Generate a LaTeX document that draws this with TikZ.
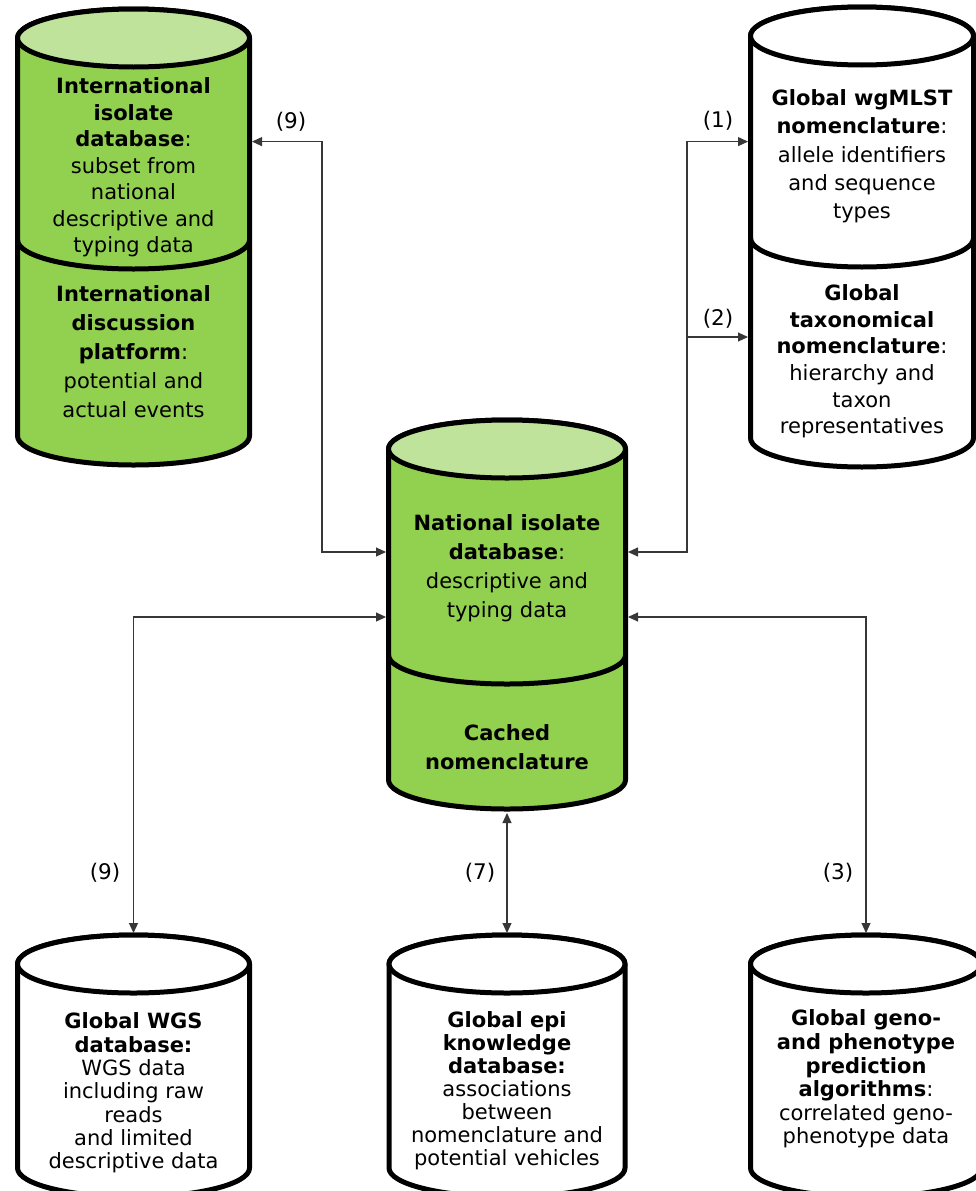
\documentclass[tikz,border=0pt]{standalone}
\usepackage{fontspec}
\setmainfont{DejaVu Sans}
\usetikzlibrary{arrows.meta}
\definecolor{dbgreen}{RGB}{146,208,80}
\definecolor{dbtop}{RGB}{192,227,156}
\definecolor{connc}{RGB}{55,55,55}
\newcommand\dbcylinder[7]{%
  \filldraw[cylline, fill=#6] (#1-#2,#3) -- (#1-#2,#4) arc[start angle=180,end angle=0,x radius=#2,y radius=#5] -- (#1+#2,#3) arc[start angle=0,end angle=-180,x radius=#2,y radius=#5] -- cycle;
  \filldraw[cylline, fill=#7] (#1,#3) ellipse[x radius=#2,y radius=#5];
}
\newcommand\dbdivider[4]{%
  \draw[cylline] (#1-#2,#3) arc[start angle=180,end angle=0,x radius=#2,y radius=#4];
}
\begin{document}
\begin{tikzpicture}[x=1pt,y=-1pt,
  cylline/.style={line width=5pt, draw=black, line join=round},
  box/.style={shape=rectangle, inner sep=0pt, outer sep=0pt, draw=none},
  conn/.style={draw=connc, line width=1.1pt},
  >={Triangle[length=10pt,width=9pt]},
  dbtext/.style={align=center, inner sep=0pt, text=black, font=\fontsize{21}{#1}\selectfont},
  lbl/.style={inner sep=0pt, text=black, font=\fontsize{21.5}{24}\selectfont}]
\useasboundingbox (0,0) rectangle (976,1191);
\clip (0,0) rectangle (976,1191);

% cylinders
\dbcylinder{133.5}{116}{38}{436}{29}{dbgreen}{dbtop}
\dbdivider{133.5}{116}{240}{29}
\dbcylinder{862}{111.5}{36}{438}{29}{white}{white}
\dbdivider{862}{111.5}{238}{29}
\dbcylinder{507}{118.5}{449}{780}{29}{dbgreen}{dbtop}
\dbdivider{507}{118.5}{655}{29}
\dbcylinder{133.5}{116}{964}{1168}{29}{white}{white}
\dbcylinder{507}{118}{964}{1168}{29}{white}{white}
\dbcylinder{866}{115.5}{964}{1168}{29}{white}{white}

% invisible shape nodes for connectors
\node[box, minimum width=237pt, minimum height=460pt] (intl) at (133.5,237) {};
\node[box, minimum width=228pt, minimum height=465pt] (wg) at (862,237.5) {};
\node[box, minimum width=242pt, minimum height=395pt] (natl) at (507,615.5) {};
\node[box, minimum width=237pt, minimum height=267pt] (wgs) at (133.5,1066.5) {};
\node[box, minimum width=240.5pt, minimum height=267pt] (epi) at (507,1066.5) {};
\node[box, minimum width=235.5pt, minimum height=267pt] (geno) at (866,1066.5) {};

% texts
\node[dbtext=26.5] (intltxt) at (133.5,167.5) {\textbf{International}\\\textbf{isolate}\\\textbf{database}:\\subset from\\national\\descriptive and\\typing data};
\node[dbtext=29] (plattxt) at (133.5,352) {\textbf{International}\\\textbf{discussion}\\\textbf{platform}:\\potential and\\actual events};
\node[dbtext=28.3] (wgtxt) at (862,156.5) {\textbf{Global wgMLST}\\\textbf{nomenclature}:\\allele identifiers\\and sequence\\types};
\node[dbtext=26.6] (taxtxt) at (862,361.5) {\textbf{Global}\\\textbf{taxonomical}\\\textbf{nomenclature}:\\hierarchy and\\taxon\\representatives};
\node[dbtext=29] (natltxt) at (507,568) {\textbf{National isolate}\\\textbf{database}:\\descriptive and\\typing data};
\node[dbtext=29] (cachetxt) at (507,747.5) {\textbf{Cached}\\\textbf{nomenclature}};
\node[dbtext=23.3] (wgstxt) at (133.5,1093) {\textbf{Global WGS}\\\textbf{database:}\\WGS data\\including raw\\reads\\and limited\\descriptive data};
\node[dbtext=23] (epitxt) at (507,1091) {\textbf{Global epi}\\\textbf{knowledge}\\\textbf{database:}\\associations\\between\\nomenclature and\\potential vehicles};
\node[dbtext=23.6] (genotxt) at (866,1079) {\textbf{Global geno-}\\\textbf{and phenotype}\\\textbf{prediction}\\\textbf{algorithms}:\\correlated geno-\\phenotype data};

% connectors
\coordinate (b9) at (322,141.6);
\coordinate (b1) at (687,141.6);
\coordinate (b2) at (687,337);
\draw[conn,<->] (natl.west |- 0,552) -| (b9) -- (intl.east |- b9);
\draw[conn,<->] (natl.east |- 0,552) -| (b1) -- (wg.west |- b1);
\draw[conn,->] (b2) -- (wg.west |- b2);
\draw[conn,<->] (natl.west |- 0,617) -| (wgs.north);
\draw[conn,<->] (natl.south) -- (epi.north);
\draw[conn,<->] (natl.east |- 0,617) -| (geno.north);

% labels
\node[lbl] (l9a) at (291,122) {(9)};
\node[lbl] (l1) at (718,121) {(1)};
\node[lbl] (l2) at (718,319) {(2)};
\node[lbl] (l9b) at (105,873) {(9)};
\node[lbl] (l7) at (480,873) {(7)};
\node[lbl] (l3) at (838,873) {(3)};
\end{tikzpicture}
\end{document}
